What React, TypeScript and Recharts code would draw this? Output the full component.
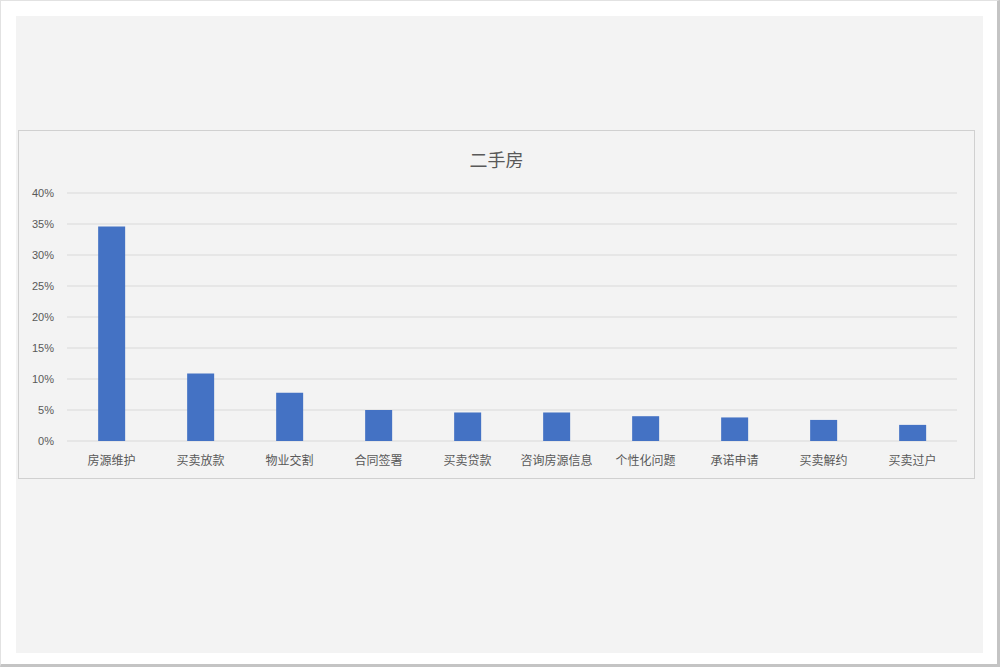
import React from "react";
import { BarChart, Bar, XAxis, YAxis, CartesianGrid } from "recharts";

const categories = [
  "房源维护",
  "买卖放款",
  "物业交割",
  "合同签署",
  "买卖贷款",
  "咨询房源信息",
  "个性化问题",
  "承诺申请",
  "买卖解约",
  "买卖过户",
];
const shares = [0.346, 0.109, 0.078, 0.05, 0.046, 0.046, 0.04, 0.038, 0.034, 0.026];
const yTicks = [0, 0.05, 0.1, 0.15, 0.2, 0.25, 0.3, 0.35, 0.4];
const title = "二手房";

const data = categories.map((name, i) => ({ name, value: shares[i] }));

const fontCJK = '"Noto Sans CJK SC", "Noto Sans", sans-serif';

export default function App() {
  return (
    <div
      style={{
        position: "absolute",
        left: 0,
        top: 0,
        width: 1000,
        height: 667,
        background: "#ffffff",
        boxSizing: "border-box",
        borderTop: "1px solid #e2e2e2",
        borderLeft: "1px solid #e2e2e2",
        borderRight: "3px solid #c4c4c4",
        borderBottom: "3px solid #c4c4c4",
        overflow: "hidden",
      }}
    >
      <div
        style={{
          position: "absolute",
          left: 15,
          top: 15,
          width: 967,
          height: 637,
          background: "#f3f3f3",
        }}
      />
      <div
        style={{
          position: "absolute",
          left: 17,
          top: 129,
          width: 957,
          height: 349,
          boxSizing: "border-box",
          border: "1px solid #d0d0d0",
          background: "#f3f3f3",
        }}
      >
        <div
          style={{
            position: "absolute",
            left: 0,
            top: 15,
            width: "100%",
            textAlign: "center",
            fontFamily: fontCJK,
            fontSize: 18,
            color: "#595959",
            lineHeight: "26px",
          }}
        >
          {title}
        </div>
        <div style={{ position: "absolute", left: 0, top: 0 }}>
          <BarChart
            width={955}
            height={347}
            data={data}
            margin={{ top: 62, right: 17, left: 0, bottom: 0 }}
            barCategoryGap="35%"
          >
            <CartesianGrid vertical={false} stroke="#d9d9d9" strokeWidth={1} />
            <XAxis
              dataKey="name"
              axisLine={false}
              tickLine={false}
              tickSize={6}
              tickMargin={9}
              height={37}
              interval={0}
              tick={{ fill: "#595959", fontSize: 12, fontFamily: fontCJK }}
            />
            <YAxis
              domain={[0, 0.4]}
              ticks={yTicks}
              interval={0}
              axisLine={false}
              tickLine={false}
              tickSize={6}
              tickMargin={7}
              width={48}
              tickFormatter={(v: number) => `${Math.round(v * 100)}%`}
              tick={{ fill: "#595959", fontSize: 11, fontFamily: '"Liberation Sans", "Noto Sans", sans-serif' }}
            />
            <Bar dataKey="value" fill="#4472C4" isAnimationActive={false} />
          </BarChart>
        </div>
      </div>
    </div>
  );
}
